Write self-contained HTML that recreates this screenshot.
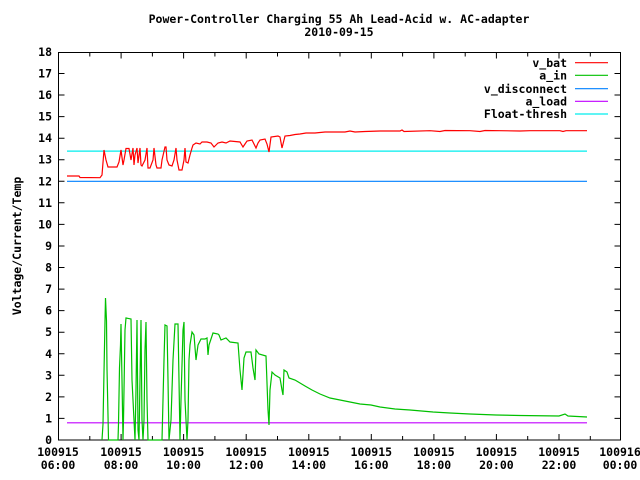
<!DOCTYPE html>
<html><head><meta charset="utf-8"><style>
body{margin:0;background:#fff}
svg{display:block}
text{font-family:"DejaVu Sans Mono","Liberation Mono",monospace;font-weight:bold;font-size:11.5px;fill:#000}
</style></head><body>
<svg width="640" height="480" xmlns="http://www.w3.org/2000/svg">
<rect width="640" height="480" fill="#fff"/>
<text x="339" y="23" text-anchor="middle">Power-Controller Charging 55 Ah Lead-Acid w. AC-adapter</text>
<text x="339" y="36" text-anchor="middle">2010-09-15</text>
<text transform="translate(21,246) rotate(-90)" text-anchor="middle">Voltage/Current/Temp</text>
<g stroke="#000" stroke-width="1" fill="none">
<rect x="58.5" y="52.5" width="562" height="387.5"/>
<path d="M58.5 440h6M620.5 440h-6M58.5 418.4h6M620.5 418.4h-6M58.5 396.9h6M620.5 396.9h-6M58.5 375.3h6M620.5 375.3h-6M58.5 353.8h6M620.5 353.8h-6M58.5 332.2h6M620.5 332.2h-6M58.5 310.6h6M620.5 310.6h-6M58.5 289.1h6M620.5 289.1h-6M58.5 267.5h6M620.5 267.5h-6M58.5 246h6M620.5 246h-6M58.5 224.4h6M620.5 224.4h-6M58.5 202.8h6M620.5 202.8h-6M58.5 181.3h6M620.5 181.3h-6M58.5 159.7h6M620.5 159.7h-6M58.5 138.2h6M620.5 138.2h-6M58.5 116.6h6M620.5 116.6h-6M58.5 95h6M620.5 95h-6M58.5 73.5h6M620.5 73.5h-6"/>
<path d="M89.8 440v-4M89.8 52.5v4M121.1 440v-6M121.1 52.5v6M152.4 440v-4M152.4 52.5v4M183.6 440v-6M183.6 52.5v6M214.9 440v-4M214.9 52.5v4M246.2 440v-6M246.2 52.5v6M277.5 440v-4M277.5 52.5v4M308.8 440v-6M308.8 52.5v6M340 440v-4M340 52.5v4M371.3 440v-6M371.3 52.5v6M402.6 440v-4M402.6 52.5v4M433.9 440v-6M433.9 52.5v6M465.2 440v-4M465.2 52.5v4M496.4 440v-6M496.4 52.5v6M527.7 440v-4M527.7 52.5v4M559 440v-6M559 52.5v6M590.3 440v-4M590.3 52.5v4"/>
</g>
<g text-anchor="end">
<text x="52" y="444">0</text><text x="52" y="422.4">1</text><text x="52" y="400.9">2</text><text x="52" y="379.3">3</text><text x="52" y="357.8">4</text><text x="52" y="336.2">5</text><text x="52" y="314.6">6</text><text x="52" y="293.1">7</text><text x="52" y="271.5">8</text><text x="52" y="250">9</text><text x="52" y="228.4">10</text><text x="52" y="206.8">11</text><text x="52" y="185.3">12</text><text x="52" y="163.7">13</text><text x="52" y="142.2">14</text><text x="52" y="120.6">15</text><text x="52" y="99">16</text><text x="52" y="77.5">17</text><text x="52" y="56">18</text>
</g>
<g text-anchor="middle">
<text x="58" y="456">100915</text><text x="58" y="469">06:00</text>
<text x="121" y="456">100915</text><text x="121" y="469">08:00</text>
<text x="183.6" y="456">100915</text><text x="183.6" y="469">10:00</text>
<text x="246.2" y="456">100915</text><text x="246.2" y="469">12:00</text>
<text x="308.8" y="456">100915</text><text x="308.8" y="469">14:00</text>
<text x="371.3" y="456">100915</text><text x="371.3" y="469">16:00</text>
<text x="433.9" y="456">100915</text><text x="433.9" y="469">18:00</text>
<text x="496.4" y="456">100915</text><text x="496.4" y="469">20:00</text>
<text x="559" y="456">100915</text><text x="559" y="469">22:00</text>
<text x="620" y="456">100916</text><text x="620" y="469">00:00</text>
</g>
<g text-anchor="end">
<text x="567" y="67">v_bat</text>
<text x="567" y="79.5">a_in</text>
<text x="567" y="93">v_disconnect</text>
<text x="567" y="105.5">a_load</text>
<text x="567" y="118">Float-thresh</text>
</g>
<g stroke-width="1.2" fill="none">
<path d="M575 62.7h33" stroke="#ff0000"/>
<path d="M575 75.3h33" stroke="#00c000"/>
<path d="M575 88.7h33" stroke="#0080ff"/>
<path d="M575 101.3h33" stroke="#c000ff"/>
<path d="M575 114h33" stroke="#00eeee"/>
<path d="M67 151.1H587" stroke="#00eeee"/>
<path d="M67 181.3H587" stroke="#0080ff"/>
<path d="M67 422.8H587" stroke="#c000ff"/>
<polyline stroke="#ff0000" points="67,176 79,176 80,177.5 100,177.7 102,175 104,150 106,160 108,167 117,167 119,162 121,150 123,165 124,160 126,148.5 129,148.5 131,160 133,148 134,165 135,155 137,148 138,163 140,148 141,165 142,166 145,160 147,148 148,168 150,168 153,160 154,148 156,165 157,168 161,168 162,160 165,147 166,147 167,160 169,165 172,166 174,160 176,148 177,160 179,170 182,170 184,160 185,148 186,162 188,163 190,155 192,148 193,145 196,143 200,144 202,142 207,142 211,143 214,147 218,143 222,142 226,143 230,141 240,142 243,147 245,144 247,141 252,140 255,146 256,148 258,143 260,140 265,139 267,144 269,152 271,137 278,136 280,137 282,148 285,136 290,135.5 295,134.5 300,134 306,133 315,133 325,132 345,132 350,131 355,132 365,131.5 380,131 400,131 402,130 404,131.5 430,130.7 440,131.5 445,130.5 470,130.7 480,131.5 485,130.5 500,130.7 520,131 530,130.7 560,130.7 563,131.5 566,130.7 587,130.7"/>
<polyline stroke="#00c000" points="102,440 103,424 104,372 105,321 105.5,298 106.5,321 107,369 108,415 108.5,440 118,440 118.5,424 119.5,368 120.5,345 121,324 122,380 123,440 123.5,420 124.5,360 125,330 126,318 131,319 132,380 134,420 135,440 136,390 137,320 138,430 139,440 140,380 141,320 142,420 143,440 144,420 145,350 146,322 147,400 148,440 162,440 163,400 164,360 165,325 167,326 168,380 169,440 171,420 173,360 175,324 178,324 179,380 180,440 181,400 183,330 184,322 185,400 187,440 188,420 189,360 190,345 192,332 194,335 196,360 198,345 201,339 205,339 207,338 208,355 209,345 213,333 218,334 219,335 221,340 226,338 230,342 238,343 240,370 242,390 244,358 246,352 251,352 253,368 255,380 256,350 259,354 266,356 268,410 269,425 270,390 272,372 275,375 280,378 282,390 283,395 284,370 287,372 289,378 295,380 300,383 305,386 312,390 320,394 330,398 340,400 350,402 360,404 371,405 380,407 395,409 410,410 433,412 450,413 470,414 496,415 520,415.5 559,416 565,414 568,416 587,417"/>
</g>
</svg>
</body></html>
